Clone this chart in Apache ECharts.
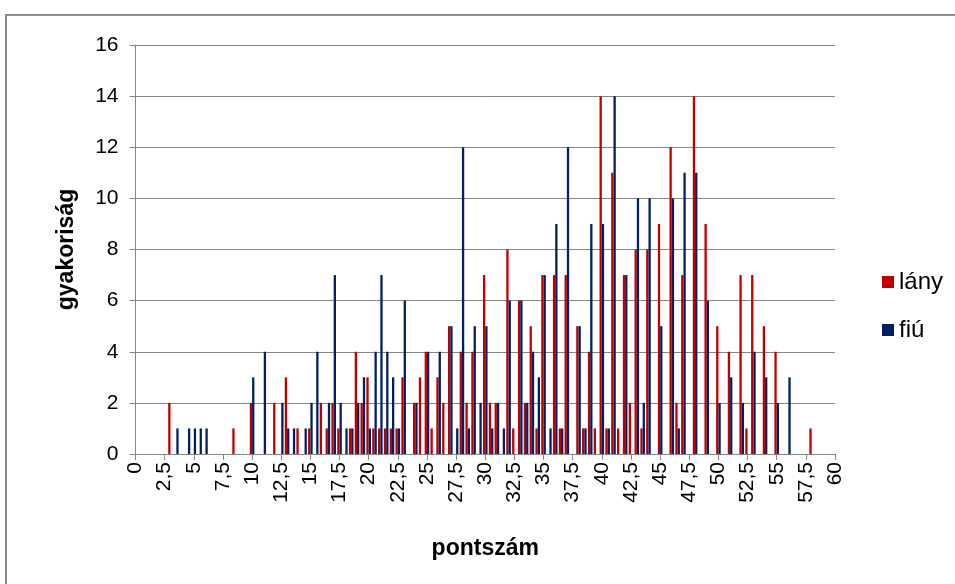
<!DOCTYPE html>
<html>
<head>
<meta charset="utf-8">
<script src="https://cdn.jsdelivr.net/npm/echarts@6/dist/echarts.min.js"></script>
<style>
  html, body { margin: 0; padding: 0; background: #fff; }
  #chart { width: 955px; height: 584px; }
</style>
</head>
<body>
<div id="chart"></div>
<script>
// Score categories: 0 to 60 in half-point steps
const scoreStep = 0.5;
const scoreMax = 60;
const categories = [];
for (let s = 0; s <= scoreMax + 1e-9; s += scoreStep) categories.push(s);

// Frequencies per score (0, 0.5, 1, ... 60)
const lany = [
  0,0,0,0,0,0,2,0,0,0,   // 0 - 4.5
  0,0,0,0,0,0,0,1,0,0,   // 5 - 9.5
  2,0,0,0,2,0,3,0,1,0,   // 10 - 14.5
  1,0,2,1,2,1,0,1,4,2,   // 15 - 19.5
  3,1,1,1,1,1,3,0,2,3,   // 20 - 24.5
  4,1,3,2,5,0,4,2,4,0,   // 25 - 29.5
  7,2,2,0,8,1,6,2,5,1,   // 30 - 34.5
  7,0,7,1,7,0,5,1,4,1,   // 35 - 39.5
  14,1,11,1,7,2,8,1,8,0, // 40 - 44.5
  9,0,12,2,7,0,14,0,9,0, // 45 - 49.5
  5,0,4,0,7,1,7,0,5,0,   // 50 - 54.5
  4,0,0,0,0,0,1,0,0,0,   // 55 - 59.5
  0                      // 60
];
const fiu = [
  0,0,0,0,0,0,0,1,0,1,   // 0 - 4.5
  1,1,1,0,0,0,0,0,0,0,   // 5 - 9.5
  3,0,4,0,0,2,1,1,0,1,   // 10 - 14.5
  2,4,0,2,7,2,1,1,2,3,   // 15 - 19.5
  1,4,7,4,3,1,6,0,2,0,   // 20 - 24.5
  4,0,4,0,5,1,12,1,5,2,  // 25 - 29.5
  5,1,2,1,6,0,6,2,4,3,   // 30 - 34.5
  7,1,9,1,12,0,5,1,9,0,  // 35 - 39.5
  9,1,14,0,7,0,10,2,10,0,// 40 - 44.5
  5,0,10,1,11,0,11,0,6,0,// 45 - 49.5
  2,0,3,0,2,0,4,0,3,0,   // 50 - 54.5
  2,0,3,0,0,0,0,0,0,0,   // 55 - 59.5
  0                      // 60
];

const seriesNames = ['lány', 'fiú'];
const seriesColors = ['#C00000', '#002060'];
const yTicks = { min: 0, max: 16, interval: 2 };

const axisGray = '#868686';
const fontFam = "'Liberation Sans', Arial, sans-serif";

const chart = echarts.init(document.getElementById('chart'), null, { renderer: 'canvas' });

chart.setOption({
  animation: false,
  backgroundColor: '#ffffff',
  graphic: [{
    type: 'rect',
    shape: { x: 6, y: 15, width: 980, height: 600 },
    style: { fill: 'none', stroke: '#8c8c8c', lineWidth: 2 },
    silent: true
  }],
  grid: { left: 135.5, right: 120, top: 45, bottom: 130, containLabel: false },
  legend: {
    orient: 'vertical',
    left: 877,
    top: 265,
    itemWidth: 12,
    itemHeight: 12,
    itemGap: 24,
    icon: 'rect',
    textStyle: { fontFamily: fontFam, fontSize: 24, color: '#000' },
    data: seriesNames
  },
  xAxis: {
    type: 'category',
    data: categories,
    boundaryGap: false,
    name: 'pontszám',
    nameLocation: 'middle',
    nameGap: 83,
    nameTextStyle: { fontFamily: fontFam, fontSize: 23, fontWeight: 'bold', color: '#000' },
    axisLine: { lineStyle: { color: axisGray, width: 1 } },
    axisTick: { show: true, interval: 4, length: 6, lineStyle: { color: axisGray } },
    axisLabel: {
      interval: 4,
      rotate: 90,
      margin: 8,
      fontFamily: fontFam,
      fontSize: 21,
      color: '#000',
      formatter: v => String(v).replace('.', ',')
    },
    splitLine: { show: false }
  },
  yAxis: {
    type: 'value',
    min: yTicks.min,
    max: yTicks.max,
    interval: yTicks.interval,
    name: 'gyakoriság',
    nameLocation: 'middle',
    nameGap: 57,
    nameTextStyle: { fontFamily: fontFam, fontSize: 23, fontWeight: 'bold', color: '#000' },
    axisLine: { show: true, lineStyle: { color: axisGray, width: 1 } },
    axisTick: { show: true, length: 6, lineStyle: { color: axisGray } },
    axisLabel: { fontFamily: fontFam, fontSize: 21, color: '#000', margin: 17 },
    splitLine: { show: true, lineStyle: { color: axisGray, width: 1 } }
  },
  series: [
    {
      name: seriesNames[0],
      type: 'bar',
      data: lany,
      barWidth: 2.3,
      barGap: '0%',
      itemStyle: { color: seriesColors[0] }
    },
    {
      name: seriesNames[1],
      type: 'bar',
      data: fiu,
      barWidth: 2.3,
      barGap: '0%',
      itemStyle: { color: seriesColors[1] }
    }
  ]
});
</script>
</body>
</html>
